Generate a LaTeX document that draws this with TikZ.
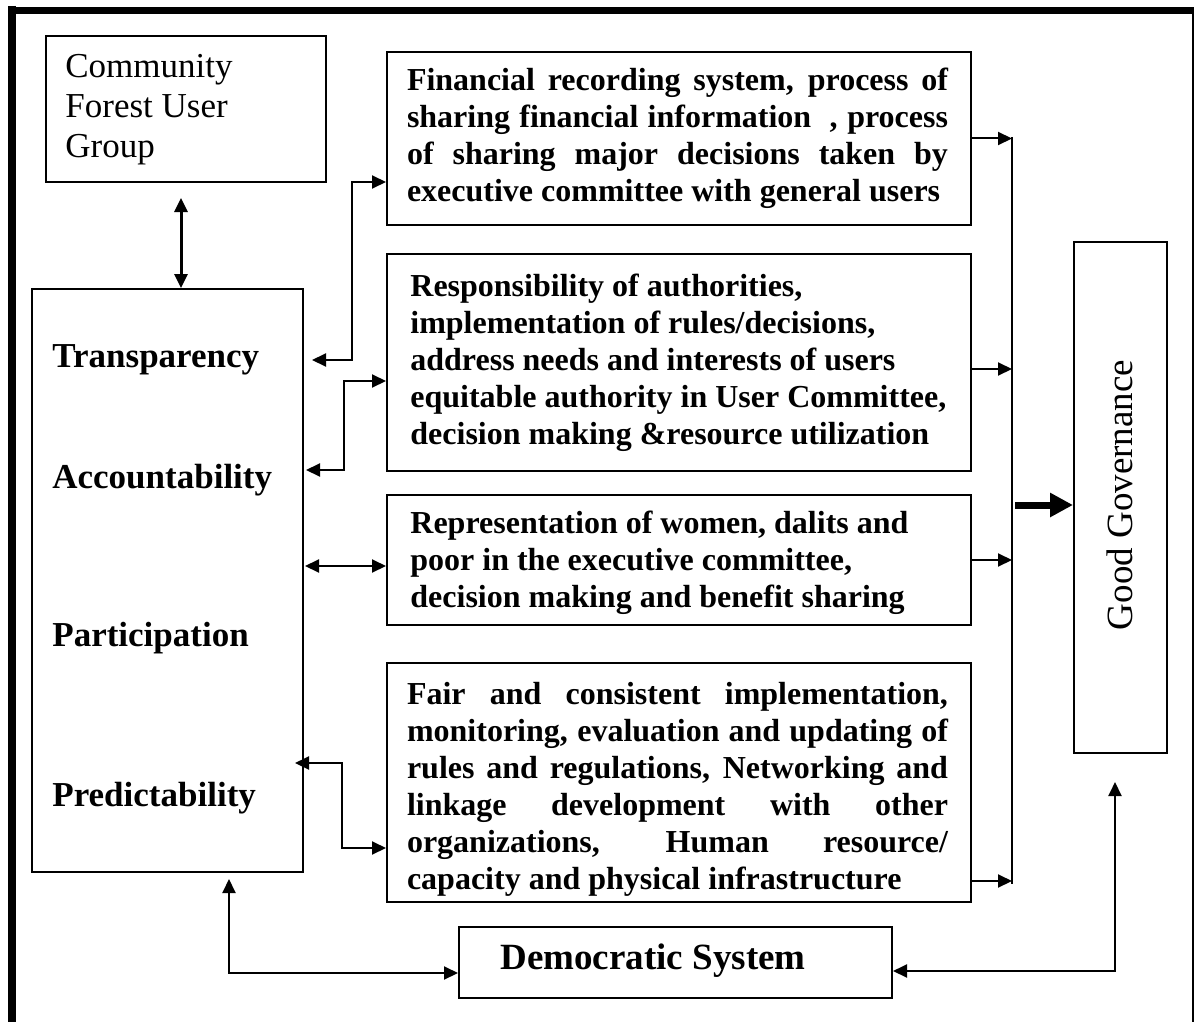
\documentclass[tikz,border=0pt]{standalone}
\usepackage{fontspec}
\setmainfont{Liberation Serif}
\usetikzlibrary{arrows.meta}
\begin{document}
\begin{tikzpicture}[x=0.5pt,y=-0.5pt,
  box/.style={draw, line width=1pt, rectangle, inner sep=0pt},
  tip/.style={Triangle[length=7pt,width=6.5pt]},
  dbl/.style={line width=1pt, {Triangle[length=7pt,width=6.5pt]}-{Triangle[length=7pt,width=6.5pt]}},
  sgl/.style={line width=1pt, -{Triangle[length=7pt,width=6.5pt]}},
  body/.style={font=\fontsize{16}{18.5}\selectfont\bfseries, inner sep=0pt},
  label/.style={font=\fontsize{17.5}{20}\selectfont\bfseries, inner sep=0pt, anchor=west},
]
\useasboundingbox (0,0) rectangle (1194,1022);

% page frame: heavy left and top rules, light right rule
\draw[line width=4pt] (12,6) -- (12,1022);
\draw[line width=3.5pt] (8,10.5) -- (1194,10.5);
\draw[line width=1pt] (1192.5,10) -- (1192.5,1022);

% community forest user group
\node[box, minimum width=140pt, minimum height=73pt] (cf) at (186,109) {};
\node[font=\fontsize{17.5}{20}\selectfont, align=left, anchor=west, inner sep=0pt] (cft) at (65,110)
  {Community\\Forest User\\Group};

% principles box
\node[box, minimum width=135.5pt, minimum height=291.5pt] (L) at (167.5,580.5) {};
\node[label] (lt1) at (52,360) {Transparency};
\node[label] (lt2) at (52,480) {Accountability};
\node[label] (lt3) at (52,638) {Participation};
\node[label] (lt4) at (52,798) {Predictability};

% indicator boxes
\node[box, minimum width=292pt, minimum height=86.5pt] (b1) at (679,138.5) {};
\node[body, text width=270.5pt, align=justify] (b1t) at (677.5,138.5)
  {Financial recording system, process of\linebreak
   sharing financial information~~, process\linebreak
   of sharing major decisions taken by\linebreak
   executive committee with general users};

\node[box, minimum width=292pt, minimum height=108.5pt] (b2) at (679,362.5) {};
\node[body, align=left, anchor=west] (b2t) at (410,363)
  {Responsibility of authorities,\\
   implementation of rules/decisions,\\
   address needs and interests of users\\
   equitable authority in User Committee,\\
   decision making \&resource utilization};

\node[box, minimum width=292pt, minimum height=65pt] (b3) at (679,560) {};
\node[body, align=left, anchor=west] (b3t) at (410,563)
  {Representation of women, dalits and\\
   poor in the executive committee,\\
   decision making and benefit sharing};

\node[box, minimum width=292pt, minimum height=119.5pt] (b4) at (679,782.5) {};
\node[body, text width=270.5pt, align=justify] (b4t) at (677.5,789.5)
  {Fair and consistent implementation,\linebreak
   monitoring, evaluation and updating of\linebreak
   rules and regulations, Networking and\linebreak
   linkage development with other\linebreak
   organizations, Human resource/\linebreak
   capacity and physical infrastructure};

% outcome
\node[box, minimum width=46.5pt, minimum height=255.5pt] (gg) at (1120.5,497.5) {};
\node[rotate=90, font=\fontsize{18.5}{22}\selectfont, inner sep=0pt] (ggt) at (1120,495) {Good Governance};

% democratic system
\node[box, minimum width=216.5pt, minimum height=35.5pt] (ds) at (675.5,962.5) {};
\node[font=\fontsize{18.5}{22}\selectfont\bfseries, inner sep=0pt] (dst) at (653,961) {Democratic System};

% CFUG <-> principles
\coordinate (ut) at (181,198);
\draw[dbl, line width=1.5pt] (ut) -- (ut |- L.north);

% principles <-> indicator boxes
\coordinate (t1) at (312,360); \coordinate (k1) at (352,182);
\draw[dbl] (t1) -| (k1) -- (k1 -| b1.west);
\coordinate (t2) at (306,470); \coordinate (k2) at (344,381);
\draw[dbl] (t2) -| (k2) -- (k2 -| b2.west);
\coordinate (t3) at (305,566);
\draw[dbl] (t3) -- (t3 -| b3.west);
\coordinate (t4) at (295,763); \coordinate (k4) at (342,848);
\draw[dbl] (t4) -| (k4) -- (k4 -| b4.west);

% collector on the right
\coordinate (ctop) at (1012,137);
\coordinate (cbot) at (1012,884);
\draw[line width=1.2pt] (ctop) -- (cbot);
\draw[sgl] (b1.east) -- (b1.east -| ctop);
\coordinate (r2) at (972,369);
\draw[sgl] (r2) -- (r2 -| ctop);
\draw[sgl] (b3.east) -- (b3.east -| ctop);
\coordinate (r4) at (972,881);
\draw[sgl] (r4) -- (r4 -| ctop);

% heavy arrow to good governance
\coordinate (ta) at (1015,505);
\draw[line width=3.5pt, -{Triangle[length=11.5pt,width=11.5pt]}] (ta) -- (ta -| gg.west);

% democratic system links
\coordinate (lt) at (229,879); \coordinate (bl) at (229,973);
\draw[dbl] (lt) -- (bl) -- (bl -| ds.west);
\coordinate (rt) at (1115,782); \coordinate (br) at (1115,971);
\draw[dbl] (rt) -- (br) -- (br -| ds.east);
\end{tikzpicture}
\end{document}
